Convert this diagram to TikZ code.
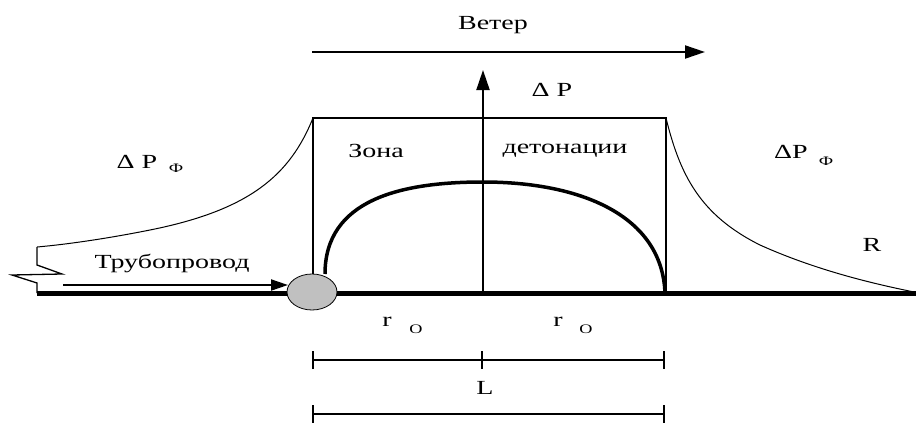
\documentclass[tikz,border=0pt]{standalone}
\usepackage{fontspec}
\setmainfont{Liberation Serif}[FakeStretch=1.4]
\usepackage{xcolor}
\usetikzlibrary{arrows.meta,positioning,calc,shapes.geometric}
\definecolor{ChargeGray}{RGB}{192,192,192}
\tikzset{
  lbl/.style={inner sep=0pt,font=\fontsize{20}{22}\selectfont},
  sublbl/.style={inner sep=0pt,font=\fontsize{13}{14}\selectfont},
  ground/.style={line width=5pt},
  zone/.style={line width=2pt},
  front/.style={line width=3.5pt},
  wave/.style={line width=1pt},
  dimline/.style={line width=2pt,{Bar[width=18pt,line width=2pt]}-{Bar[width=18pt,line width=2pt]}},
  arr/.style={-{Triangle[length=20pt,width=13pt]},line width=2pt},
}

\begin{document}
\begin{tikzpicture}[x=1pt,y=-1pt]
  \useasboundingbox (0,0) rectangle (916,423);
  % key points
  \coordinate (gl) at (37,293);
  \coordinate (gr) at (916,293);
  \coordinate (tl) at (313,118);
  \coordinate (tr) at (666,118);
  \coordinate (bl) at (313,293);
  \coordinate (br) at (666,293);
  \coordinate (ctr) at (483,293);
  \coordinate (ptop) at (483,70);
  \coordinate (w1) at (312,52);
  \coordinate (w2) at (705,52);
  \coordinate (p1) at (63,285);
  \coordinate (p2) at (288,285);
  \coordinate (brk) at (37,247);

  % ground and zone
  \draw[ground] (gl) -- (gr);
  \draw[zone] (bl) -- (tl) -- (tr) -- (br);
  \draw[arr] (ctr) -- (ptop);
  \draw[arr] (w1) -- (w2);

  % pressure curves
  \draw[wave] (tl) .. controls (290,175) and (250,210) .. (150,230)
    .. controls (100,240) and (60,245) .. (brk);
  \draw[wave] (tr) .. controls (680,175) and (700,215) .. (760,245)
    .. controls (820,272) and (880,285) .. (914,292);

  % pipe break
  \draw[wave,line width=1.3pt] (brk) -- (37,265) -- (62,274) -- (12,275)
    -- (37,283) -- (gl);

  % detonation front
  \draw[front] (325,274) .. controls (325,200) and (400,182) .. (483,182)
    .. controls (580,182) and (662,215) .. (665,293);

  \node[ellipse,draw,line width=0.8pt,fill=ChargeGray,minimum width=50pt,
        minimum height=36pt,inner sep=0pt] (charge) at (312,292) {};
  \draw[arr,-{Triangle[length=17pt,width=11pt]}] (p1) -- (p2);

  % dimensions
  \draw[dimline] (312,360) coordinate (d1l) -- (665,360) coordinate (d1r);
  \draw[line width=2pt] (482,351) coordinate (d1m) -- (482,369);
  \draw[dimline] (312,414) coordinate (d2l) -- (665,414) coordinate (d2r);

  % labels
  \node[lbl] (wind) at (493,25) {Ветер};
  \node[lbl] (dp) at (552,90) {Δ P};
  \node[lbl] (zona) at (376,151) {Зона};
  \node[lbl] (deton) at (565,151) {детонации};
  \node[lbl] (dpl) at (137,162) {Δ P};
  \node[sublbl] (dplf) at (176,168) {Ф};
  \node[lbl] (dpr) at (791,152) {ΔP};
  \node[sublbl] (dprf) at (826,161) {Ф};
  \node[lbl] (pipe) at (172,263) {Трубопровод};
  \node[lbl] (rr) at (872,245) {R};
  \node[lbl] (r1) at (387,322) {r};
  \node[sublbl] (o1) at (416,329) {O};
  \node[lbl] (r2) at (558,322) {r};
  \node[sublbl] (o2) at (586,329) {O};
  \node[lbl] (len) at (485,388) {L};
\end{tikzpicture}
\end{document}
